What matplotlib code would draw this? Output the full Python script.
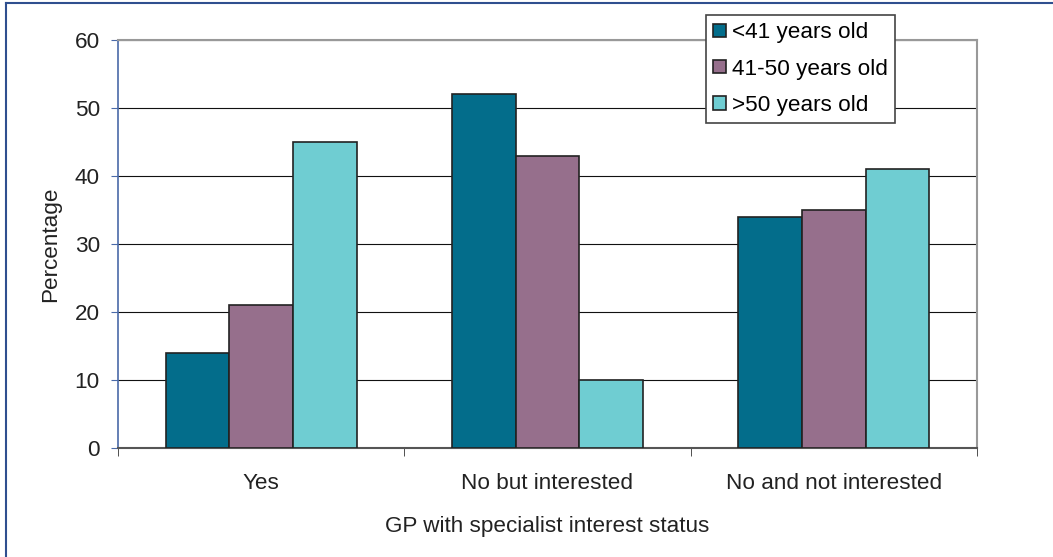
import numpy as np
import matplotlib.pyplot as plt
from matplotlib.lines import Line2D

# ─── Data ─────────────────────────────────────────────────────────────
categories = ["Yes", "No but interested", "No and not interested"]
series_names = ["<41 years old", "41-50 years old", ">50 years old"]
under_41 = [14, 52, 34]
age_41_50 = [21, 43, 35]
over_50 = [45, 10, 41]
y_ticks = [0, 10, 20, 30, 40, 50, 60]

colors = ["#036d8b", "#966f8c", "#6fcdd2"]
FS = 16.2

plt.rcParams["font.family"] = ["Liberation Sans", "DejaVu Sans"]

fig = plt.figure(figsize=(10.53, 5.57), dpi=100)
ax = fig.add_axes([118 / 1053, 1 - 448 / 557, 859 / 1053, 408 / 557])

x = np.arange(len(categories))
width = 0.222
for i, (vals, name) in enumerate(zip([under_41, age_41_50, over_50], series_names)):
    ax.bar(x + (i - 1) * width, vals, width, color=colors[i], edgecolor="#222222",
           linewidth=1.2, label=name, zorder=3)

ax.set_xlim(-0.5, 2.5)
ax.set_ylim(0, 60)
ax.set_yticks(y_ticks)
ax.set_xticks(x)
ax.set_xticklabels(categories)
ax.set_xticks([-0.5, 0.5, 1.5, 2.5], minor=True)
ax.tick_params(axis="x", which="major", length=0, pad=18, labelsize=FS, colors="#222222")
ax.tick_params(axis="x", which="minor", length=6, color="#333333", direction="out")
ax.tick_params(axis="y", length=5, color="#4a6aa8", labelsize=FS, labelcolor="#222222", pad=8)

ax.grid(axis="y", color="#111111", linewidth=0.8, zorder=0)
ax.set_axisbelow(True)

ax.spines["left"].set_color("#4a6aa8")
ax.spines["left"].set_linewidth(1.2)
ax.spines["top"].set_color("#999999")
ax.spines["top"].set_linewidth(1.5)
ax.spines["right"].set_color("#999999")
ax.spines["right"].set_linewidth(1.5)
ax.spines["bottom"].set_color("#555555")
ax.spines["bottom"].set_linewidth(1.5)

ax.set_ylabel("Percentage", fontsize=FS, color="#222222", labelpad=10)
ax.set_xlabel("GP with specialist interest status", fontsize=FS, color="#222222", labelpad=16)

leg = ax.legend(loc="upper left", bbox_to_anchor=(0.6845, 1.061), fontsize=FS,
                fancybox=False, framealpha=1, edgecolor="#444444",
                handlelength=0.55, handleheight=0.55, handletextpad=0.3,
                labelspacing=0.68, borderpad=0.32, borderaxespad=0)
leg.get_frame().set_linewidth(1.2)
leg.set_zorder(10)

# outer chart frame (left and top edges visible)
fig.add_artist(Line2D([6 / 1053, 6 / 1053], [0, 1 - 3 / 557], color="#2f4f8f", linewidth=1.5))
fig.add_artist(Line2D([6 / 1053, 1], [1 - 3 / 557, 1 - 3 / 557], color="#2f4f8f", linewidth=1.5))

fig.savefig("out.png", dpi=100)
